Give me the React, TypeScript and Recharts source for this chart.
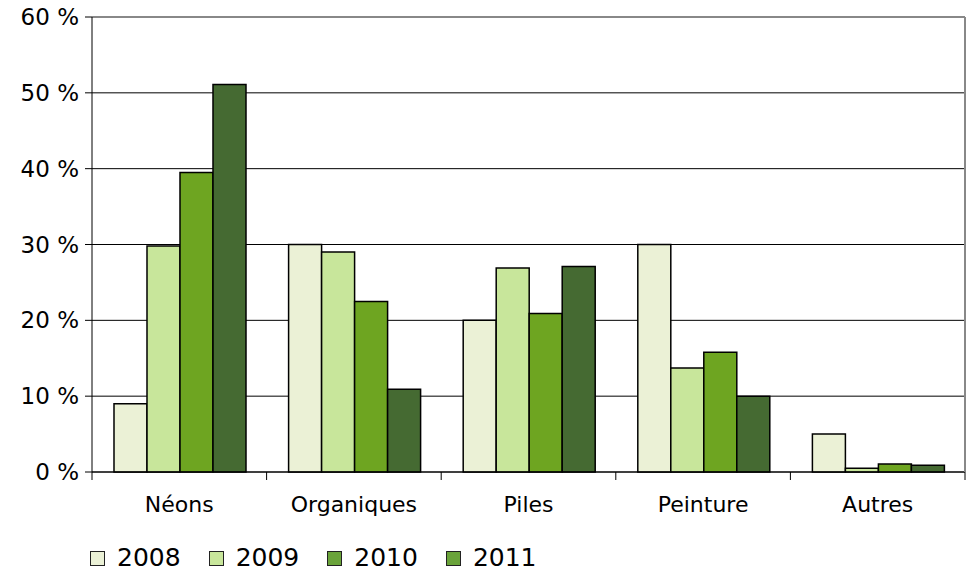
import { Bar, BarChart, CartesianGrid, Legend, ReferenceLine, XAxis, YAxis } from "recharts";

const categories = ["Néons", "Organiques", "Piles", "Peinture", "Autres"];
const years = ["2008", "2009", "2010", "2011"];
const v2008 = [9, 30, 20, 30, 5];
const v2009 = [29.8, 29, 26.9, 13.7, 0.5];
const v2010 = [39.5, 22.5, 20.9, 15.8, 1.05];
const v2011 = [51.1, 10.9, 27.1, 10, 0.9];
const yTicks = [0, 10, 20, 30, 40, 50, 60];

const barColors = ["#EBF1D6", "#C8E69B", "#6EA521", "#456A32"];
const legendColors = ["#EBF1D6", "#C8E69B", "#6AA33A", "#6AA33A"];

const series = [v2008, v2009, v2010, v2011];
const data = categories.map((name, i) => {
  const row: Record<string, string | number> = { name };
  years.forEach((y, k) => {
    row[y] = series[k][i];
  });
  return row;
});

const FONT = "'DejaVu Sans', sans-serif";

function CategoryTick(props: any) {
  const { x, y, payload, index } = props;
  const half = payload.offset ?? 0;
  const top = y - 8;
  return (
    <g>
      <line x1={x - half} x2={x - half} y1={top} y2={y} stroke="#000" />
      {index === categories.length - 1 && (
        <line x1={x + half} x2={x + half} y1={top} y2={y} stroke="#000" />
      )}
      <text x={x} y={y} dy={32} textAnchor="middle" fontSize={22} fontFamily={FONT} fill="#000">
        {payload.value}
      </text>
    </g>
  );
}

function LegendBox() {
  return (
    <div style={{ display: "flex", paddingLeft: 90, paddingTop: 19, fontFamily: FONT, fontSize: 25, lineHeight: "24px" }}>
      {years.map((y, k) => (
        <div key={y} style={{ display: "flex", alignItems: "center", marginRight: 28 }}>
          <span
            style={{
              display: "inline-block",
              width: 13,
              height: 13,
              background: legendColors[k],
              border: "1.5px solid #222",
              marginRight: 12,
            }}
          />
          <span>{y}</span>
        </div>
      ))}
    </div>
  );
}

export default function App() {
  return (
    <div style={{ position: "absolute", left: 0, top: 0, width: 973, height: 571, background: "#fff" }}>
      <BarChart
        width={973}
        height={571}
        data={data}
        margin={{ top: 17, right: 7, left: 0, bottom: 0 }}
        barCategoryGap="12.6%"
        barGap={0}
      >
        <CartesianGrid vertical={false} stroke="#000" strokeOpacity={1} />
        <ReferenceLine y={60} stroke="#888" strokeWidth={2} />
        <XAxis
          dataKey="name"
          height={55}
          tickLine={false}
          tickSize={8}
          tickMargin={0}
          axisLine={{ stroke: "#000" }}
          tick={<CategoryTick />}
          interval={0}
        />
        <YAxis
          width={92}
          domain={[0, 60]}
          ticks={yTicks}
          tickFormatter={(v: number) => `${v} %`}
          tickSize={7}
          tickMargin={6}
          axisLine={{ stroke: "#000" }}
          tickLine={{ stroke: "#000" }}
          tick={{ fontSize: 23, fontFamily: FONT, fill: "#000" }}
        />
        <YAxis
          yAxisId="border"
          orientation="right"
          width={1}
          domain={[0, 60]}
          tick={false}
          tickLine={false}
          axisLine={{ stroke: "#888", strokeWidth: 2 }}
        />
        <Legend
          verticalAlign="bottom"
          height={44}
          wrapperStyle={{ overflow: "visible" }}
          content={() => <LegendBox />}
        />
        {years.map((y, k) => (
          <Bar
            key={y}
            dataKey={y}
            fill={barColors[k]}
            stroke="#000"
            strokeWidth={1.5}
            isAnimationActive={false}
          />
        ))}
      </BarChart>
    </div>
  );
}
